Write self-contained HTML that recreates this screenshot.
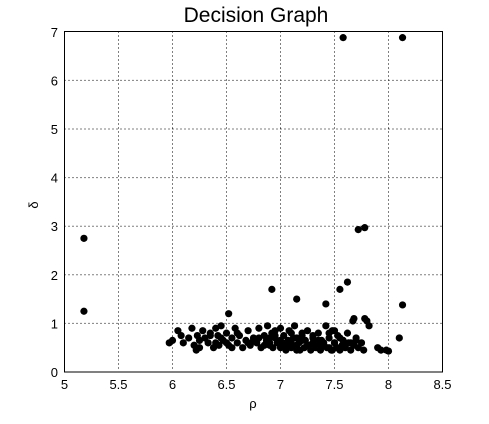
<!DOCTYPE html>
<html><head><meta charset="utf-8"><style>
body{margin:0;background:#fff;}
svg text{font-family:"Liberation Sans",sans-serif;}
</style></head><body>
<svg id="chart" width="489" height="419" xmlns="http://www.w3.org/2000/svg">
<rect width="489" height="419" fill="#fff"/>
<text x="256" y="22" font-size="21" text-anchor="middle">Decision Graph</text>
<g id="grid"></g><g id="pts"></g>
<rect x="64.5" y="31.5" width="378" height="340.5" fill="none" stroke="#000"/>
<g id="ticks"></g>
<text x="253" y="408" font-size="13" text-anchor="middle">ρ</text>
<text x="38" y="205" font-size="13" text-anchor="middle" transform="rotate(-90 38 205)">δ</text>
</svg>
<script>
const xTicks=[5,5.5,6,6.5,7,7.5,8,8.5];
const xTickLabels=["5","5.5","6","6.5","7","7.5","8","8.5"];
const yTicks=[0,1,2,3,4,5,6,7];
const yTickLabels=["0","1","2","3","4","5","6","7"];
const rho=[5.18,5.18,7.58,8.13,7.72,7.78,7.62,7.55,6.92,7.15,7.42,8.13,6.52,8.1,
5.97,6.0,6.05,6.08,6.1,6.15,6.18,6.2,6.22,6.23,6.25,6.28,6.3,6.33,6.35,6.38,6.4,6.42,6.43,6.45,6.47,6.5,6.52,6.55,6.58,6.6,6.62,6.65,6.68,6.7,6.72,6.75,6.78,6.8,6.82,6.85,6.87,6.88,6.9,6.92,6.93,6.95,6.97,7.0,7.02,7.03,7.05,7.07,7.08,7.1,7.12,7.13,7.15,7.17,7.18,7.2,7.22,7.23,7.25,7.27,7.28,7.3,7.32,7.33,7.35,7.37,7.38,7.4,7.42,7.43,7.45,7.47,7.48,7.5,7.52,7.53,7.55,7.57,7.58,7.6,7.62,7.63,7.65,7.67,7.68,7.7,7.72,7.75,7.77,7.8,7.82,7.9,7.93,7.98,8.0,
6.25,6.4,6.45,6.55,6.6,6.7,6.8,6.85,6.9,6.95,7.0,7.05,7.1,7.15,7.2,7.25,7.3,7.35,7.4,7.45,7.5,7.55,7.6,7.65,7.7,6.95,7.1,7.3,7.45,7.05,7.2,7.35,7.5,7.68,7.78,6.35,6.5,6.75,6.9,7.0,7.15,7.3,7.4,7.48,7.55];
const delta=[2.75,1.25,6.88,6.88,2.93,2.97,1.85,1.7,1.7,1.5,1.4,1.38,1.2,0.7,
0.6,0.65,0.85,0.75,0.6,0.7,0.9,0.55,0.45,0.75,0.65,0.85,0.7,0.6,0.8,0.5,0.9,0.75,0.55,0.95,0.65,0.8,0.55,0.7,0.9,0.6,0.75,0.5,0.65,0.85,0.55,0.7,0.6,0.9,0.5,0.75,0.65,0.95,0.55,0.8,0.5,0.7,0.6,0.9,0.55,0.75,0.45,0.65,0.85,0.5,0.7,0.95,0.55,0.6,0.45,0.75,0.5,0.65,0.85,0.55,0.45,0.7,0.6,0.5,0.8,0.45,0.65,0.55,0.95,0.5,0.7,0.45,0.85,0.6,0.5,0.75,0.45,0.55,0.65,0.5,0.8,0.6,0.45,1.05,0.55,0.7,0.5,0.6,0.45,1.05,0.95,0.5,0.45,0.45,0.43,
0.5,0.6,0.7,0.5,0.8,0.6,0.7,0.55,0.6,0.75,0.65,0.55,0.6,0.7,0.65,0.55,0.6,0.55,0.6,0.5,0.6,0.7,0.55,0.6,0.65,0.85,0.8,0.75,0.8,0.6,0.8,0.65,0.85,1.1,1.1,0.75,0.6,0.65,0.7,0.5,0.45,0.5,0.55,0.45,0.5];
const X=v=>64.5+(v-5)*108;
const Y=v=>372-v*48.6;
const ns="http://www.w3.org/2000/svg";
const grid=document.getElementById('grid'),tk=document.getElementById('ticks'),pts=document.getElementById('pts');
function mk(tag,attrs,parent){const e=document.createElementNS(ns,tag);for(const k in attrs)e.setAttribute(k,attrs[k]);parent.appendChild(e);return e;}
xTicks.forEach((v,i)=>{
 if(i>0&&i<xTicks.length-1){const l=mk('line',{x1:X(v),x2:X(v),y1:31.5,y2:372,stroke:'#000','stroke-dasharray':'1 3'},grid);
 
 }
 const t=mk('text',{x:X(v),y:389,'font-size':13,'text-anchor':'middle'},tk);t.textContent=xTickLabels[i];
 
 
});
yTicks.forEach((v,i)=>{
 if(i>0&&i<yTicks.length-1){const l=mk('line',{x1:64.5,x2:442.5,y1:Y(v),y2:Y(v),stroke:'#000','stroke-dasharray':'1 3'},grid);
 
 }
 const t=mk('text',{x:58,y:Y(v)+5,'font-size':13,'text-anchor':'end'},tk);t.textContent=yTickLabels[i];
 
 
});
rho.forEach((r,i)=>{
 const c=mk('circle',{cx:X(r),cy:Y(delta[i]),r:3.6,fill:'#000'},pts);
 
 
});
</script>
</body></html>
